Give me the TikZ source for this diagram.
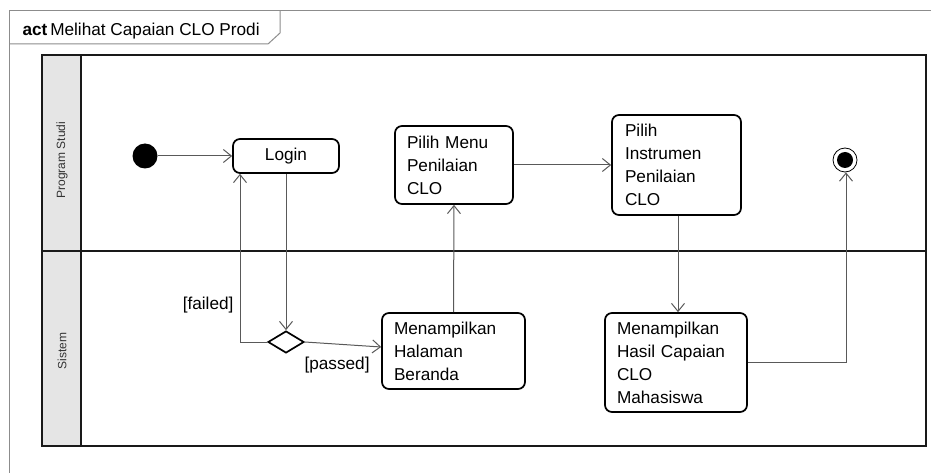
\documentclass[tikz,border=0pt]{standalone}
\usepackage{fontspec}
\setmainfont{Liberation Sans}
\usetikzlibrary{arrows.meta,shapes.geometric}
\begin{document}
\begin{tikzpicture}[x=1pt,y=-1pt,
  txt/.style={font=\fontsize{17.2}{23}\selectfont},
  action/.style={draw=black, line width=1.7pt, rounded corners=7pt, fill=white,
    inner xsep=12pt, inner ysep=0pt, align=left, txt},
  flow/.style={draw=black!65, line width=1pt,
    -{Straight Barb[length=8pt,width=13pt,line width=1pt]}},
  lanename/.style={rotate=90, text=black!80, font=\fontsize{12}{14}\selectfont},
]
\useasboundingbox (0,0) rectangle (931,473);

% diagram frame and name tab
\draw[black!45, line width=1pt] (931,11) -- (9,11) -- (9,473);
\draw[black!45, line width=1pt] (9,44) -- (268,44) -- (280,33) -- (280,11);
\node[anchor=west, font=\fontsize{17.2}{19}\selectfont] (title) at (19,31)
  {\textbf{act}\,Melihat Capaian CLO Prodi};

% swimlanes
\fill[black!10] (42,55) rectangle (81,446);
\draw[black!90, line width=1.8pt] (42,55) rectangle (926,446);
\draw[black!90, line width=1.8pt] (81,55) -- (81,446);
\draw[black!90, line width=1.8pt] (42,251) -- (926,251);
\node[lanename] (laneA) at (62,160) {Program Studi};
\node[lanename] (laneB) at (62,351) {Sistem};

% nodes
\node[circle, fill=black, minimum size=25pt, inner sep=0pt] (start) at (145,156) {};
\node[action, align=center, minimum width=106pt, minimum height=34pt, inner xsep=0pt] (login) at (286,156) {Login};
\node[action, minimum height=78pt, text width=94pt] (menu) at (454,165) {Pilih Menu\\Penilaian\\CLO};
\node[action, minimum height=100pt, text width=103pt, inner xsep=13pt] (instr) at (676.5,165) {Pilih\\Instrumen\\Penilaian\\CLO};
\node[circle, draw=black, line width=0.8pt, minimum size=24pt, inner sep=0pt] (final) at (845,160) {};
\fill[black] (final.center) circle (8pt);

\node[diamond, draw=black, line width=1.7pt, fill=white, minimum width=36pt, minimum height=22pt, inner sep=0pt] (dec) at (286,342) {};
\node[action, minimum height=76pt, text width=119pt] (beranda) at (453.5,351) {Menampilkan\\Halaman\\Beranda};
\node[action, minimum height=99pt, text width=118pt] (hasil) at (676,362.5) {Menampilkan\\Hasil Capaian\\CLO\\Mahasiswa};

% connectors
\draw[flow] (start) -- (login.west);
\draw[flow] (login.south) -- (dec.north);
\coordinate (fturn) at (240,342);
\draw[flow] (dec.west) -- (fturn) -- (fturn |- login.south);
\node[txt, anchor=east] (failed) at (237,305) {[failed]};
\draw[flow] (dec.east) -- ([yshift=4pt]beranda.west);
\node[txt, anchor=west] (passed) at (301,365) {[passed]};
\draw[flow] (beranda.north) -- (menu.south);
\draw[flow] (menu.east) -- (instr.west);
\draw[flow] ([xshift=1.5pt]instr.south) -- ([xshift=2pt]hasil.north);
\coordinate (eturn) at (846,362.5);
\draw[flow] (hasil.east) -- (eturn) -- (eturn |- final.south);
\end{tikzpicture}
\end{document}
